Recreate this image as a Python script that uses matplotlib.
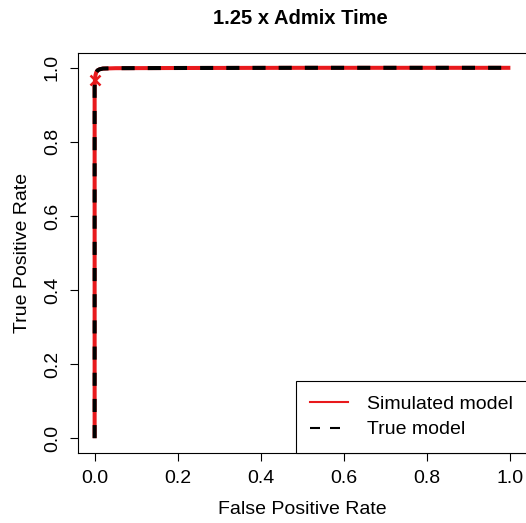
import matplotlib
matplotlib.use("Agg")
import matplotlib.pyplot as plt
from matplotlib.lines import Line2D

plt.rcParams['font.family'] = ['Liberation Sans', 'DejaVu Sans']

# ROC curves
sim_fpr = [0.0, 0.0, 0.0, 0.001, 0.002, 0.004, 0.007, 0.012, 0.02, 0.05, 0.2, 0.5, 1.0]
sim_tpr = [0.0, 0.5, 0.95, 0.97, 0.98, 0.988, 0.993, 0.996, 0.998, 0.999, 0.9995, 1.0, 1.0]
true_fpr = [0.0, 0.0, 0.0, 0.001, 0.002, 0.004, 0.007, 0.012, 0.02, 0.05, 0.2, 0.5, 1.0]
true_tpr = [0.0, 0.5, 0.95, 0.97, 0.98, 0.988, 0.993, 0.996, 0.998, 0.999, 0.9995, 1.0, 1.0]
mark_fpr = [0.0]
mark_tpr = [0.968]

ticks = [0.0, 0.2, 0.4, 0.6, 0.8, 1.0]
tick_labels = ['0.0', '0.2', '0.4', '0.6', '0.8', '1.0']

RED = '#e8191c'
FS = 14

W, H = 526, 523
fig = plt.figure(figsize=(W / 100, H / 100), dpi=100)
# plot region in pixels: left 78, right ~527, top 53, bottom 453
ax = fig.add_axes([78 / W, (H - 453) / H, (527 - 78) / W, (453 - 53) / H])

ax.plot(sim_fpr, sim_tpr, '-', color=RED, linewidth=2.9, solid_capstyle='butt')
ax.plot(true_fpr, true_tpr, color='black', linewidth=2.9, dashes=(3.25, 3.25))
ax.plot(mark_fpr, mark_tpr, 'x', color=RED, markersize=7, markeredgewidth=1.8)

ax.set_xlim(-0.04, 1.04)
ax.set_ylim(-0.04, 1.04)
ax.set_xticks(ticks)
ax.set_xticklabels(tick_labels)
ax.set_yticks(ticks)
ax.set_yticklabels(tick_labels, rotation=90, va='center')
ax.tick_params(direction='out', length=5.8, width=0.8, labelsize=FS, pad=6.5)
for s in ax.spines.values():
    s.set_linewidth(0.8)

ax.set_xlabel('False Positive Rate', fontsize=FS, labelpad=10)
ax.set_ylabel('True Positive Rate', fontsize=FS, labelpad=9)
fig.text(300 / W, 1 - 18 / H, '1.25 x Admix Time', ha='center', va='center',
         fontsize=14.5, fontweight='bold')

handles = [Line2D([], [], color=RED, linewidth=1.5),
           Line2D([], [], color='black', linewidth=1.5, dashes=(4.8, 4.8))]
leg = ax.legend(handles, ['Simulated model', 'True model'], loc='lower right',
                borderaxespad=0, fancybox=False, framealpha=1, edgecolor='black',
                fontsize=FS, handlelength=1.95, borderpad=0.75, labelspacing=0.4,
                handletextpad=0.95)
leg.get_frame().set_linewidth(0.8)

fig.savefig('out.png', dpi=100)
